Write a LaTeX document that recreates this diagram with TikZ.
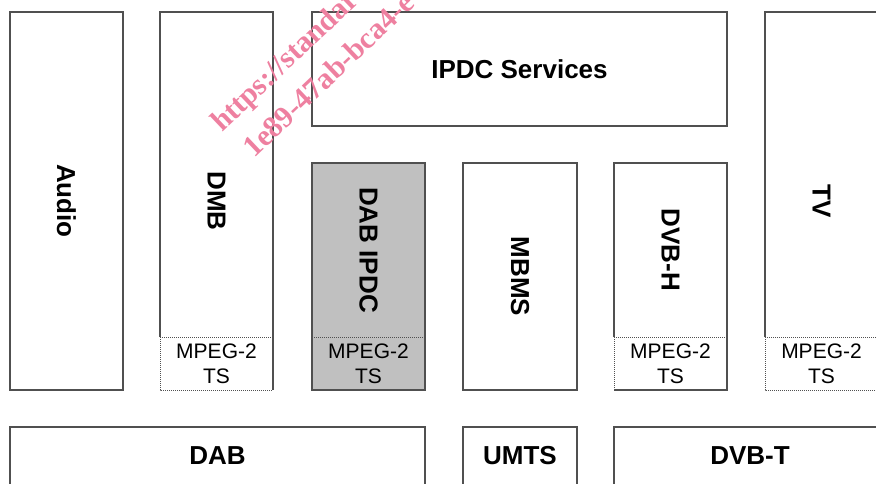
\documentclass[tikz,border=0pt]{standalone}
\usepackage{fontspec}
\setmainfont{Liberation Sans}
\newfontfamily\wmfont{Liberation Serif}
\definecolor{edge}{RGB}{80,80,80}
\definecolor{shade}{RGB}{192,192,192}
\definecolor{wmpink}{RGB}{238,128,160}
\begin{document}
\begin{tikzpicture}[x=1pt,y=-1pt,
  frame/.style={draw=edge, line width=1.1pt},
  split/.style={draw=edge, line width=0.9pt, dash pattern=on 1pt off 1pt},
  bold/.style={inner sep=0pt, font=\bfseries\fontsize{26}{30}\selectfont},
  vbold/.style={bold, rotate=-90},
  ts/.style={inner sep=0pt, align=center, font=\fontsize{21}{25}\selectfont},
  wm/.style={inner sep=0pt, anchor=base west, rotate=43.5, text=wmpink,
             font=\wmfont\bfseries\fontsize{30}{30}\selectfont}]
\useasboundingbox (0,0) rectangle (876,484);
\clip (0,0) rectangle (876,484);

% Audio column
\draw[frame] (10,12) rectangle (123,390);
\node[vbold] (audio) at (66.5,201) {Audio};

% DMB column with its MPEG-2 TS part
\draw[frame] (160,337) -- (160,12) -- (273,12) -- (273,390);
\draw[split] (160,337) -- (160,390) -- (273,390);
\draw[split] (160,337) -- (273,337);
\node[vbold] (dmb) at (216.5,201) {DMB};
\node[ts] (dmbts) at (216.5,363.5) {MPEG-2\\TS};

% IPDC services layer
\draw[frame] (312,12) rectangle (727,126);
\node[bold] (ipdc) at (519.5,69) {IPDC Services};

% DAB IPDC column (shaded)
\draw[frame, fill=shade] (312,163) rectangle (425,390);
\draw[split] (312,337) -- (425,337);
\node[vbold] (dabipdc) at (368.5,250) {DAB IPDC};
\node[ts] (dabts) at (368.5,363.5) {MPEG-2\\TS};

% MBMS column
\draw[frame] (463,163) rectangle (577,390);
\node[vbold] (mbms) at (520,276.5) {MBMS};

% DVB-H column with its MPEG-2 TS part
\draw[frame] (614,337) -- (614,163) -- (727,163) -- (727,390) -- (614,390);
\draw[split] (614,337) -- (614,390);
\draw[split] (614,337) -- (727,337);
\node[vbold] (dvbh) at (670.5,250) {DVB-H};
\node[ts] (dvbhts) at (670.5,363.5) {MPEG-2\\TS};

% TV column with its MPEG-2 TS part
\draw[frame] (765,337) -- (765,12) -- (890,12);
\draw[split] (765,337) -- (765,390) -- (890,390);
\draw[split] (765,337) -- (890,337);
\node[vbold] (tv) at (821.5,201) {TV};
\node[ts] (tvts) at (821.5,363.5) {MPEG-2\\TS};

% Bearer layer
\draw[frame] (10,490) -- (10,427) -- (425,427) -- (425,490);
\node[bold] (dab) at (217.5,456) {DAB};
\draw[frame] (463,490) -- (463,427) -- (577,427) -- (577,490);
\node[bold] (umts) at (520,456) {UMTS};
\draw[frame] (614,490) -- (614,427) -- (890,427);
\node[bold] (dvbt) at (750,456) {DVB-T};

% Watermark
\node[wm] (wm1) at (222,133) {https://standar};
\node[wm] (wm2) at (254,159) {1e89-47ab-bca4-e};
\end{tikzpicture}
\end{document}
